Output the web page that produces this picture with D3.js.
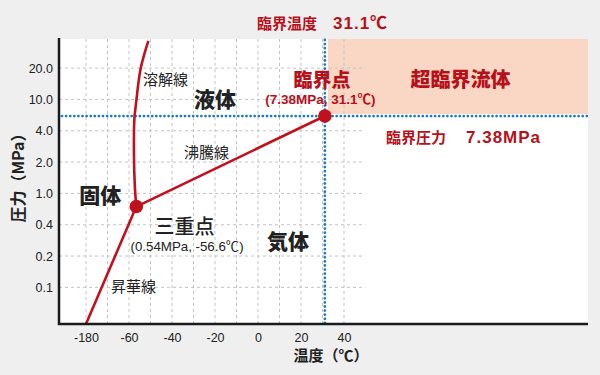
<!DOCTYPE html>
<html>
<head>
<meta charset="utf-8">
<script src="https://cdn.jsdelivr.net/npm/d3@7"></script>
<style>
	body { margin: 0; background: #efefef; }
	svg { display: block; }
	text { font-family: "Liberation Sans", "Noto Sans CJK JP", sans-serif; }
	.jp { font-family: "Noto Sans CJK JP", sans-serif; }
</style>
</head>
<body>
<svg width="600" height="375"></svg>
<script>
// temperature ticks (the axis is broken between -180 and -60)
var xTicks = [-180, -60, -40, -20, 0, 20, 40];
var xGrid = [-180, -120, -60, -50, -40, -30, -20, -10, 0, 10, 20, 30, 40];
// pressure ticks, one per grid row
var yTickLabels = ["0.1", "0.2", "0.4", "1.0", "2.0", "4.0", "10.0", "20.0"];

// [temperature, pressure row]
var triplePoint = [-56.6, 2.58];
var criticalPoint = [31.1, 5.47];
var meltingLine = [[-56.6, 2.58], [-57.3, 3.24], [-57.7, 4.29], [-57.5, 5.38], [-56.7, 5.89], [-54.6, 6.98], [-51.0, 7.87]];
var boilingLine = [triplePoint, criticalPoint];
var sublimationLine = [[-180, -1.17], triplePoint];

var red = "#c0121e";
var textRed = "#b5111b";
var blue = "#1e7bbd";

var svg = d3.select("svg");
var pLeft = 59, pRight = 588, pTop = 39, pBottom = 324;

var x = d3.scaleLinear().domain([-180, -60, 50]).range([86, 129, 365.5]);
var y = d3.scaleLinear().domain([-1.17, 7.93]).range([pBottom, pTop]);

// plot area
svg.append("rect")
	.attr("x", pLeft).attr("y", pTop)
	.attr("width", pRight - pLeft).attr("height", pBottom - pTop)
	.attr("fill", "#fff");

// supercritical region
svg.append("rect")
	.attr("x", x(criticalPoint[0]) + 3)
	.attr("y", pTop)
	.attr("width", pRight - x(criticalPoint[0]) - 3)
	.attr("height", y(criticalPoint[1]) - pTop - 2)
	.attr("fill", "#fad6c4");

// grid
var grid = svg.append("g")
	.attr("stroke", "#c4c4c4")
	.attr("stroke-width", 1)
	.attr("stroke-dasharray", "3,3");

grid.selectAll(".gx")
	.data(xGrid)
	.enter()
	.append("line")
	.attr("x1", function (d) { return x(d); })
	.attr("x2", function (d) { return x(d); })
	.attr("y1", pTop)
	.attr("y2", pBottom);

grid.selectAll(".gy")
	.data(yTickLabels)
	.enter()
	.append("line")
	.attr("x1", pLeft)
	.attr("x2", x(50))
	.attr("y1", function (d, i) { return y(i); })
	.attr("y2", function (d, i) { return y(i); });

// critical temperature / pressure
var dots = svg.append("g")
	.attr("stroke", blue)
	.attr("stroke-width", 2.8)
	.attr("stroke-linecap", "round")
	.attr("stroke-dasharray", "0,4.1");

dots.append("line")
	.attr("x1", pLeft + 3).attr("x2", pRight)
	.attr("y1", y(criticalPoint[1])).attr("y2", y(criticalPoint[1]));

dots.append("line")
	.attr("x1", x(criticalPoint[0])).attr("x2", x(criticalPoint[0]))
	.attr("y1", pTop + 1).attr("y2", pBottom);

// phase boundaries
var line = d3.line()
	.x(function (d) { return x(d[0]); })
	.y(function (d) { return y(d[1]); });

svg.append("path")
	.attr("d", line.curve(d3.curveCatmullRom)(meltingLine))
	.attr("fill", "none").attr("stroke", red).attr("stroke-width", 2.6);

svg.append("path")
	.attr("d", line.curve(d3.curveLinear)(boilingLine))
	.attr("fill", "none").attr("stroke", red).attr("stroke-width", 2.6);

svg.append("path")
	.attr("d", line.curve(d3.curveLinear)(sublimationLine))
	.attr("fill", "none").attr("stroke", red).attr("stroke-width", 2.6);

svg.selectAll(".pt")
	.data([triplePoint, criticalPoint])
	.enter()
	.append("circle")
	.attr("cx", function (d) { return x(d[0]); })
	.attr("cy", function (d) { return y(d[1]); })
	.attr("r", 6.8)
	.attr("fill", red);

// axes
var xAxis = svg.append("g")
	.attr("transform", "translate(0," + pBottom + ")")
	.call(d3.axisBottom(x).tickValues(xTicks)
		.tickFormat(function (d) { return String(d); })
		.tickSize(0).tickPadding(9));
xAxis.select(".domain").remove();
xAxis.selectAll("text").attr("font-size", 12.5).attr("fill", "#222");

var yAxis = svg.append("g")
	.attr("transform", "translate(" + pLeft + ",0)")
	.call(d3.axisLeft(y)
		.tickValues(d3.range(yTickLabels.length))
		.tickFormat(function (d) { return yTickLabels[d]; })
		.tickSize(0).tickPadding(6));
yAxis.select(".domain").remove();
yAxis.selectAll("text").attr("font-size", 12.5).attr("fill", "#222");

svg.append("path")
	.attr("d", "M" + pLeft + "," + (pTop - 1) + "V" + pBottom + "H" + pRight)
	.attr("fill", "none").attr("stroke", "#1a1a1a").attr("stroke-width", 2.5);

svg.append("text")
	.attr("class", "jp")
	.attr("transform", "translate(24,174) rotate(-90)")
	.attr("text-anchor", "middle")
	.attr("font-size", 16).attr("font-weight", 700).attr("fill", "#222")
	.text("圧力（MPa）");

svg.append("text")
	.attr("class", "jp")
	.attr("x", 331).attr("y", 361)
	.attr("text-anchor", "middle")
	.attr("font-size", 15).attr("font-weight", 700).attr("fill", "#222")
	.text("温度（℃）");

// labels
function label(t, r, str, size, weight, color, cls) {
	return svg.append("text")
		.attr("class", cls || "jp")
		.attr("x", x(t)).attr("y", y(r))
		.attr("dy", "0.36em")
		.attr("text-anchor", "middle")
		.attr("font-size", size)
		.attr("font-weight", weight)
		.attr("fill", color)
		.text(str);
}

label(-43, 6.62, "溶解線", 15, 400, "#222");
label(-20, 6.01, "液体", 21, 900, "#222");
label(-24, 4.29, "沸騰線", 15, 400, "#222");
label(-140, 2.92, "固体", 21, 900, "#222");
label(-34.2, 1.93, "三重点", 20, 500, "#222");
label(-33, 1.32, "(0.54MPa, -56.6℃)", 13.3, 400, "#222", "num");
label(14, 1.48, "気体", 21, 900, "#222");
label(-57.9, 0.01, "昇華線", 15, 400, "#222");
label(29.8, 6.62, "臨界点", 19, 900, textRed);
label(29, 6.01, "(7.38MPa, 31.1℃)", 13.5, 700, textRed, "num");
label(94.2, 6.62, "超臨界流体", 20, 900, textRed);

var tc = svg.append("text")
	.attr("x", 257).attr("y", 29)
	.attr("font-weight", 700).attr("fill", textRed);
tc.append("tspan").attr("class", "jp").attr("font-size", 15).text("臨界温度");
tc.append("tspan").attr("dx", 16).attr("font-size", 17).attr("letter-spacing", 1).text("31.1℃");

var pc = svg.append("text")
	.attr("x", 386).attr("y", y(4.8) + 6)
	.attr("font-weight", 700).attr("fill", textRed);
pc.append("tspan").attr("class", "jp").attr("font-size", 15).text("臨界圧力");
pc.append("tspan").attr("dx", 20).attr("font-size", 17).attr("letter-spacing", 1).text("7.38MPa");
</script>
</body>
</html>
